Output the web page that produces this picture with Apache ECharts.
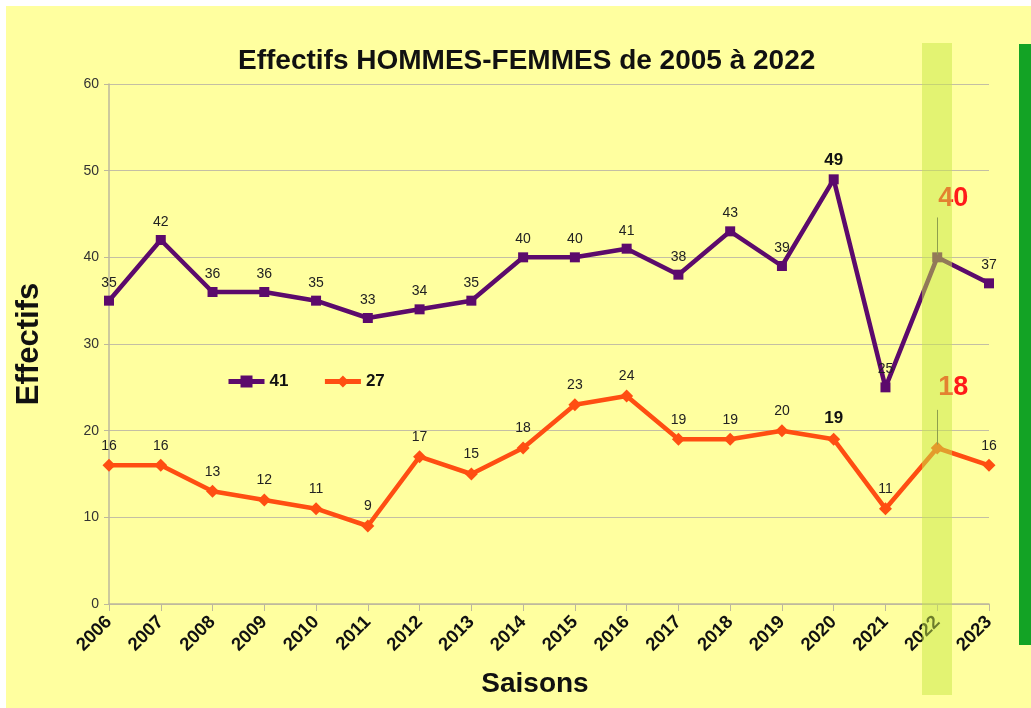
<!DOCTYPE html>
<html>
<head>
    <meta charset="utf-8">
    <title>Effectifs</title>
    <script src="https://cdn.jsdelivr.net/npm/echarts@6/dist/echarts.min.js"></script>
    <style>
        body { margin: 0; background: #ffffff; }
        #main { position: absolute; left: 6px; top: 6px; width: 1025px; height: 702px; }
    </style>
</head>
<body>
    <div id="main"></div>
    <script type="text/javascript">
        var saisons = ['2006', '2007', '2008', '2009', '2010', '2011', '2012', '2013', '2014',
            '2015', '2016', '2017', '2018', '2019', '2020', '2021', '2022', '2023'];
        var hommes = [35, 42, 36, 36, 35, 33, 34, 35, 40, 40, 41, 38, 43, 39, 49, 25, 40, 37];
        var femmes = [16, 16, 13, 12, 11, 9, 17, 15, 18, 23, 24, 19, 19, 20, 19, 11, 18, 16];
        var boldIdx = { hommes: 14, femmes: 14 };
        var focusIdx = 16; // saison 2022
        // traits de rappel vers les valeurs 2022 (début, fin)
        var repereHommes = [40.3, 44.6];
        var repereFemmes = [18.4, 22.4];

        var font = 'Liberation Sans, Arial, sans-serif';

        function buildData(values, boldAt) {
            return values.map(function (v, i) {
                if (i == focusIdx) {
                    return {
                        value: v,
                        label: { fontSize: 27, fontWeight: 'bold', color: '#ff1a1a', distance: 8 }
                    };
                }
                if (i == boldAt) {
                    return { value: v, label: { fontSize: 17, fontWeight: 'bold', color: '#111' } };
                }
                return v;
            });
        }

        function moveFocus(params) {
            if (params.dataIndex == focusIdx) {
                return { dx: 16, dy: -32 };
            }
        }

        function repere(r) {
            return {
                silent: true,
                symbol: 'none',
                label: { show: false },
                lineStyle: { color: '#555', width: 1, type: 'solid' },
                data: [[
                    { coord: [saisons[focusIdx], r[0]] },
                    { coord: [saisons[focusIdx], r[1]] }
                ]]
            };
        }

        var myChart = echarts.init(document.getElementById('main'));
        var option = {
            backgroundColor: '#ffff9f',
            textStyle: { fontFamily: font },
            animation: false,
            title: {
                text: 'Effectifs HOMMES-FEMMES de 2005 à 2022',
                left: 227,
                top: 36,
                textStyle: { fontSize: 28, fontWeight: 'bold', color: '#111', fontFamily: font }
            },
            legend: {
                left: 215,
                top: 362,
                itemWidth: 36,
                itemHeight: 15,
                itemGap: 34,
                lineStyle: { width: 5 },
                textStyle: { fontSize: 17, fontWeight: 'bold', color: '#111' },
                data: ['41', '27']
            },
            grid: { left: 103, right: 42, top: 78, bottom: 104 },
            xAxis: {
                type: 'category',
                data: saisons,
                boundaryGap: false,
                name: 'Saisons',
                nameLocation: 'middle',
                nameGap: 66,
                nameTextStyle: { fontSize: 28, fontWeight: 'bold', color: '#111', padding: [0, 28, 0, 0] },
                axisLine: { lineStyle: { color: '#bdb89c', width: 1.5 } },
                axisTick: { show: true, length: 7, lineStyle: { color: '#bdb89c' } },
                axisLabel: { rotate: 45, fontSize: 18.5, fontWeight: 'bold', color: '#111', margin: 15 }
            },
            yAxis: {
                type: 'value',
                min: 0,
                max: 60,
                interval: 10,
                name: 'Effectifs',
                nameLocation: 'middle',
                nameGap: 64,
                nameTextStyle: { fontSize: 31, fontWeight: 'bold', color: '#111' },
                axisLine: { show: true, lineStyle: { color: '#bdb89c', width: 1.5 } },
                axisTick: { show: true, length: 5, lineStyle: { color: '#bdb89c' } },
                splitLine: { lineStyle: { color: '#c4bfa4', width: 1.2 } },
                axisLabel: { fontSize: 14, color: '#333', margin: 10 }
            },
            series: [
                {
                    name: '41',
                    type: 'line',
                    data: buildData(hommes, boldIdx.hommes),
                    symbol: 'rect',
                    symbolSize: 10,
                    color: '#5c0a6c',
                    lineStyle: { width: 4.5, color: '#5c0a6c' },
                    itemStyle: { color: '#5c0a6c' },
                    label: { show: true, position: 'top', fontSize: 14, color: '#222', distance: 6 },
                    labelLayout: moveFocus,
                    markLine: repere(repereHommes),
                    z: 3
                },
                {
                    name: '27',
                    type: 'line',
                    data: buildData(femmes, boldIdx.femmes),
                    symbol: 'diamond',
                    symbolSize: 13,
                    color: '#ff4e12',
                    lineStyle: { width: 4.5, color: '#ff4e12' },
                    itemStyle: { color: '#ff4e12' },
                    label: { show: true, position: 'top', fontSize: 14, color: '#222', distance: 6 },
                    labelLayout: moveFocus,
                    markLine: repere(repereFemmes),
                    z: 3
                }
            ],
            graphic: [
                {
                    type: 'rect',
                    shape: { x: 1013, y: 38, width: 12, height: 601 },
                    style: { fill: '#13a325' },
                    z: 10
                },
                {
                    type: 'rect',
                    shape: { x: 916, y: 37, width: 30, height: 652 },
                    style: { fill: 'rgba(200,232,70,0.5)' },
                    z: 100
                }
            ]
        };
        myChart.setOption(option);
    </script>
</body>
</html>
